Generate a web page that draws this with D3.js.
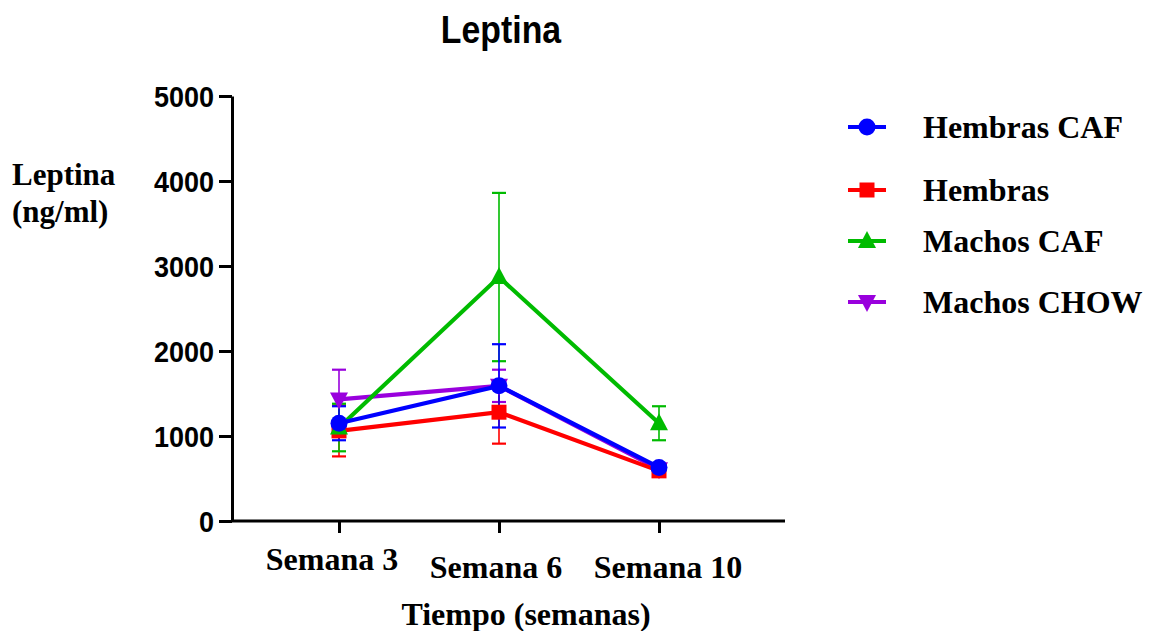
<!DOCTYPE html>
<html><head><meta charset="utf-8">
<script src="https://cdn.jsdelivr.net/npm/d3@7"></script>
<style>body{margin:0;background:#fff;}svg{display:block;}</style>
</head><body>
<svg id="c" width="1152" height="631"></svg>
<script>
const categories = ["Semana 3", "Semana 6", "Semana 10"];
const seriesNames = ["Hembras CAF", "Hembras", "Machos CAF", "Machos CHOW"];
const hembrasCAF = [1150, 1590, 630];
const hembrasCAFErr = [200, 490, 40];
const hembras = [1060, 1280, 590];
const hembrasErr = [300, 370, 30];
const machosCAF = [1100, 2870, 1150];
const machosCAFErr = [280, 990, 200];
const machosCHOW = [1430, 1590, 610];
const machosCHOWErr = [350, 190, 30];
const yTicks = [0, 1000, 2000, 3000, 4000, 5000];

const colors = {"Hembras CAF":"#0000ff","Hembras":"#ff0000","Machos CAF":"#00bb00","Machos CHOW":"#9900dd"};
const series = [
  {name:"Hembras CAF", vals:hembrasCAF, err:hembrasCAFErr, sym:"circle"},
  {name:"Hembras", vals:hembras, err:hembrasErr, sym:"square"},
  {name:"Machos CAF", vals:machosCAF, err:machosCAFErr, sym:"up"},
  {name:"Machos CHOW", vals:machosCHOW, err:machosCHOWErr, sym:"down"}
];
const drawOrder = ["Machos CHOW","Hembras","Machos CAF","Hembras CAF"];

const svg = d3.select("#c");
const y = d3.scaleLinear().domain([0,5000]).range([521,96]);
const x = d3.scalePoint().domain(categories).range([339,659]);

// title
svg.append("text").attr("x",0).attr("y",0).attr("text-anchor","middle")
  .attr("font-family","Liberation Sans").attr("font-weight","bold").attr("font-size",38)
  .attr("transform","translate(501,43) scale(0.89,1)")
  .text("Leptina");

// y axis
const yAxis = d3.axisLeft(y).tickValues(yTicks).tickFormat(d3.format("d")).tickSize(13).tickSizeOuter(0).tickPadding(5);
const gy = svg.append("g").attr("transform","translate(232,0)").call(yAxis);
gy.select(".domain").attr("stroke","#000").attr("stroke-width",3);
gy.selectAll(".tick line").attr("stroke","#000").attr("stroke-width",3);
gy.selectAll(".tick text").each(function(){
  const t = d3.select(this);
  const xx = +t.attr("x");
  t.attr("x",0).attr("transform",`translate(${xx},0) scale(0.9,1)`);
}).attr("font-family","Liberation Sans").attr("font-weight","bold")
  .attr("font-size",30).attr("fill","#000").attr("dy","0.36em");

// x axis
const gx = svg.append("g").attr("transform","translate(0,521)");
gx.append("line").attr("x1",232).attr("x2",785).attr("stroke","#000").attr("stroke-width",3);
const xAxis = d3.axisBottom(x).tickSize(12).tickSizeOuter(0);
const gxa = svg.append("g").attr("transform","translate(0,521)").call(xAxis);
gxa.select(".domain").remove();
gxa.selectAll(".tick line").attr("stroke","#000").attr("stroke-width",3);
gxa.selectAll(".tick text").remove();
const xLabelPos = {"Semana 3":[332,570],"Semana 6":[496,578],"Semana 10":[668,578]};
categories.forEach(c=>{
  svg.append("text").attr("x",xLabelPos[c][0]).attr("y",xLabelPos[c][1]).attr("text-anchor","middle")
    .attr("font-family","Liberation Serif").attr("font-weight","bold").attr("font-size",32).text(c);
});
svg.append("text").attr("x",526).attr("y",625).attr("text-anchor","middle")
  .attr("font-family","Liberation Serif").attr("font-weight","bold").attr("font-size",32).text("Tiempo (semanas)");

// y label
svg.append("text").attr("x",12).attr("y",185)
  .attr("font-family","Liberation Serif").attr("font-weight","bold").attr("font-size",31).text("Leptina");
svg.append("text").attr("x",12).attr("y",222)
  .attr("font-family","Liberation Serif").attr("font-weight","bold").attr("font-size",31).text("(ng/ml)");

function marker(g, sym, cx, cy, color, s){
  if(sym==="circle") g.append("circle").attr("cx",cx).attr("cy",cy).attr("r",8.5*s).attr("fill",color);
  else if(sym==="square") g.append("rect").attr("x",cx-7.5*s).attr("y",cy-7.5*s).attr("width",15*s).attr("height",15*s).attr("fill",color);
  else if(sym==="up") g.append("path").attr("d",`M${cx},${cy-10*s}L${cx+9*s},${cy+7*s}L${cx-9*s},${cy+7*s}Z`).attr("fill",color);
  else g.append("path").attr("d",`M${cx},${cy+10*s}L${cx+9*s},${cy-7*s}L${cx-9*s},${cy-7*s}Z`).attr("fill",color);
}

const line = d3.line().x((d,i)=>x(categories[i])).y(d=>y(d));
const plot = svg.append("g");
// error bars
drawOrder.forEach(n=>{
  const s = series.find(t=>t.name===n);
  const col = colors[n];
  s.vals.forEach((v,i)=>{
    const cx = x(categories[i]);
    const g = plot.append("g").attr("stroke",col).attr("stroke-width",1.6);
    g.append("line").attr("x1",cx).attr("x2",cx).attr("y1",y(v-s.err[i])).attr("y2",y(v+s.err[i]));
    [v-s.err[i], v+s.err[i]].forEach(e=>{
      g.append("line").attr("x1",cx-7).attr("x2",cx+7).attr("y1",y(e)).attr("y2",y(e)).attr("stroke-width",2.2);
    });
  });
});
drawOrder.forEach(n=>{
  const s = series.find(t=>t.name===n);
  const col = colors[n];
  plot.append("path").attr("d",line(s.vals)).attr("fill","none").attr("stroke",col).attr("stroke-width",4.2);
  s.vals.forEach((v,i)=>marker(plot, s.sym, x(categories[i]), y(v), col, 1));
});

// legend
const legendY = [127, 190, 241, 302];
series.forEach((s,i)=>{
  const g = svg.append("g");
  const ly = legendY[i];
  g.append("line").attr("x1",848).attr("x2",886).attr("y1",ly).attr("y2",ly).attr("stroke",colors[s.name]).attr("stroke-width",4);
  marker(g, s.sym, 867, ly, colors[s.name], 1);
  g.append("text").attr("x",923).attr("y",ly+11).attr("font-family","Liberation Serif").attr("font-weight","bold")
    .attr("font-size",32).text(s.name);
});
</script>
</body></html>
